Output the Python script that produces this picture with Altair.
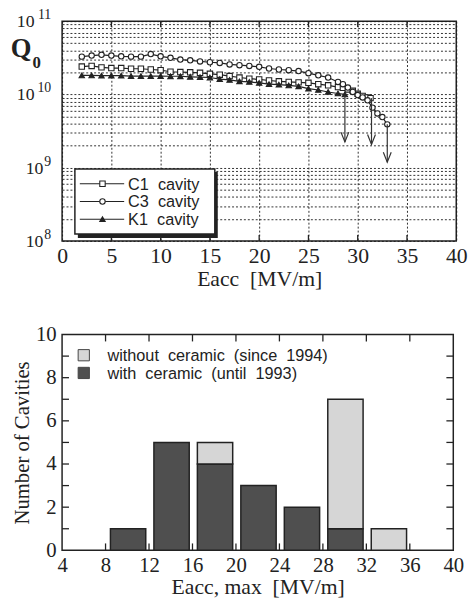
import altair as alt
import pandas as pd

SERIF = "Liberation Serif"
SANS = "Liberation Sans"
INK = "#222222"
NB = "\u00a0"

# ---------------- top panel: Q0 vs Eacc ----------------
c1_eacc = [2, 3, 4, 5, 6, 7, 8, 9, 10, 11, 12, 13, 14, 15, 16, 17, 18, 19, 20,
           21, 22, 23, 24, 25, 26, 27, 28, 28.5, 29, 29.5, 30, 30.5, 31, 31.3]
c1_q = [2.40e10, 2.45e10, 2.34e10, 2.29e10, 2.29e10, 2.24e10, 2.24e10, 2.19e10,
        2.14e10, 2.04e10, 2.02e10, 2.00e10, 1.97e10, 1.91e10, 1.86e10, 1.78e10,
        1.70e10, 1.64e10, 1.60e10, 1.55e10, 1.51e10, 1.48e10, 1.46e10, 1.44e10,
        1.38e10, 1.33e10, 1.26e10, 1.23e10, 1.17e10, 1.12e10, 1.02e10, 0.955e10,
        0.91e10, 0.89e10]

c3_eacc = [2, 3, 4, 5, 6, 7, 8, 9, 10, 11, 12, 13, 14, 15, 16, 17, 18, 19, 20,
           21, 22, 23, 24, 25, 26, 27, 28, 28.5, 29, 29.5, 30, 30.5, 31, 31.5,
           32, 32.5, 33]
c3_q = [3.28e10, 3.39e10, 3.47e10, 3.39e10, 3.31e10, 3.28e10, 3.28e10, 3.55e10,
        3.31e10, 3.16e10, 2.99e10, 2.92e10, 2.82e10, 2.75e10, 2.69e10, 2.57e10,
        2.51e10, 2.45e10, 2.38e10, 2.26e10, 2.19e10, 2.14e10, 2.08e10, 1.95e10,
        1.82e10, 1.70e10, 1.48e10, 1.38e10, 1.24e10, 1.08e10, 0.98e10, 0.91e10,
        0.83e10, 0.66e10, 0.55e10, 0.49e10, 0.39e10]

k1_eacc = [2, 3, 4, 5, 6, 7, 8, 9, 10, 11, 12, 13, 14, 15, 16, 17, 18, 19, 20,
           21, 22, 23, 24, 25, 26, 27, 28, 28.7]
k1_q = [1.82e10, 1.82e10, 1.80e10, 1.80e10, 1.80e10, 1.78e10, 1.78e10, 1.78e10,
        1.78e10, 1.77e10, 1.77e10, 1.74e10, 1.72e10, 1.70e10, 1.62e10, 1.58e10,
        1.51e10, 1.48e10, 1.44e10, 1.38e10, 1.36e10, 1.33e10, 1.29e10, 1.20e10,
        1.15e10, 1.08e10, 1.03e10, 1.00e10]

series_names = ["C1" + NB + NB + "cavity", "C3" + NB + NB + "cavity", "K1" + NB + NB + "cavity"]
series_shapes = ["square", "circle", "triangle-up"]
series_fills = ["white", "white", INK]

arrow_eacc = [28.7, 31.4, 33.0]
arrow_q_start = [1.00e10, 0.89e10, 0.39e10]
arrow_q_end = [2.24e9, 2.08e9, 1.19e9]

q_exponents = [8, 9, 10, 11]
top_x_ticks = [0, 5, 10, 15, 20, 25, 30, 35, 40]
top_inner_ticks = [5, 10, 15, 20, 25, 30, 35]
q_grid = [k * 10.0 ** n for n in (8, 9, 10) for k in range(1, 10)] + [1e11]
q_title_main = "Q"
q_title_sub = "0"

# ---------------- bottom panel: histogram ----------------
bin_start = [8, 12, 16, 20, 24, 28, 32]
bin_width = 4
with_ceramic = [1, 5, 4, 3, 2, 1, 0]
without_ceramic = [0, 0, 1, 0, 0, 6, 1]
hist_labels = ["without" + NB + NB + "ceramic" + NB + NB + "(since" + NB + NB + "1994)",
               "with" + NB + NB + "ceramic" + NB + NB + "(until" + NB + NB + "1993)"]
hist_fills = ["#d6d6d6", "#4f4f4f"]
bottom_x_ticks = [4, 8, 12, 16, 20, 24, 28, 32, 36, 40]
bottom_inner_x = [8, 12, 16, 20, 24, 28, 32, 36]
bottom_y_ticks = [0, 2, 4, 6, 8, 10]
bottom_inner_y = [1, 2, 3, 4, 5, 6, 7, 8, 9]

TW, TH = 400, 223
BW, BH = 397, 219

# ---------- build top ----------
curves = pd.concat([
    pd.DataFrame({"eacc": c1_eacc, "q": c1_q, "series": series_names[0]}),
    pd.DataFrame({"eacc": c3_eacc, "q": c3_q, "series": series_names[1]}),
    pd.DataFrame({"eacc": k1_eacc, "q": k1_q, "series": series_names[2]}),
], ignore_index=True)

GRID = dict(grid=True, gridDash=[2, 2], gridColor="#1a1a1a", gridWidth=1, gridOpacity=0.9)

x_top = alt.X("eacc:Q",
              scale=alt.Scale(domain=[0, 40], nice=False, zero=False),
              axis=alt.Axis(values=top_x_ticks, ticks=False, domain=False, labelFont=SERIF,
                            labelFontSize=22, labelColor=INK, labelPadding=5,
                            labelFlush=False, labelOverlap=False,
                            title="Eacc" + NB + NB + "[MV/m]", titleFont=SERIF,
                            titleFontSize=22, titleFontWeight="normal", titleColor=INK,
                            titlePadding=2, **GRID))
y_top = alt.Y("q:Q",
              scale=alt.Scale(type="log", domain=[1e8, 1e11], nice=False),
              axis=alt.Axis(values=q_grid, labels=False, ticks=False, domain=False,
                            title=None, **GRID))

shape_scale = alt.Scale(domain=series_names, range=series_shapes)
fill_scale = alt.Scale(domain=series_names, range=series_fills)

lines = alt.Chart(curves).mark_line(color=INK, strokeWidth=1.2).encode(
    x=x_top, y=y_top, detail="series:N")
points = alt.Chart(curves).mark_point(filled=True, size=30, stroke=INK, strokeWidth=1.1, opacity=1).encode(
    x="eacc:Q", y="q:Q",
    shape=alt.Shape("series:N", scale=shape_scale, legend=None),
    fill=alt.Fill("series:N", scale=fill_scale, legend=None))

arrows_df = pd.DataFrame({"eacc": arrow_eacc, "q": arrow_q_start, "q2": arrow_q_end})
arrow_lines = alt.Chart(arrows_df).mark_rule(color="#333", strokeWidth=1.2).encode(
    x="eacc:Q", y="q:Q", y2="q2:Q")
arrow_heads = alt.Chart(arrows_df).mark_point(
    shape="M-1,-2.5L0,0L1,-2.5", size=64, filled=False, color="#333", strokeWidth=1.2, opacity=1
).encode(x="eacc:Q", y=alt.Y("q2:Q"))

tick_df = pd.DataFrame({"eacc": top_inner_ticks})
ticks_bottom = alt.Chart(tick_df).mark_rule(color=INK, strokeWidth=1.3).encode(
    x="eacc:Q", y=alt.value(TH), y2=alt.value(TH - 6))
ticks_top = alt.Chart(tick_df).mark_rule(color=INK, strokeWidth=1.3).encode(
    x="eacc:Q", y=alt.value(0), y2=alt.value(6))

exp_df = pd.DataFrame({"exp": q_exponents})
base = alt.Chart(exp_df).transform_calculate(q="pow(10, datum.exp)", e="'' + datum.exp")
ten_two = base.transform_filter("datum.exp >= 10").mark_text(
    text="10", align="right", baseline="alphabetic", font=SERIF, fontSize=18, color=INK, dy=6
).encode(x=alt.value(-28), y="q:Q")
ten_one = base.transform_filter("datum.exp < 10").mark_text(
    text="10", align="right", baseline="alphabetic", font=SERIF, fontSize=18, color=INK, dy=6
).encode(x=alt.value(-19), y="q:Q")
exps = base.mark_text(align="right", baseline="alphabetic", font=SERIF, fontSize=14,
                      color=INK, dy=-2).encode(x=alt.value(-11), y="q:Q", text="e:N")

title_df = pd.DataFrame({"main": [q_title_main], "sub": [q_title_sub]})
q_main = alt.Chart(title_df).mark_text(align="left", baseline="alphabetic", font=SERIF,
                                       fontWeight="bold", fontSize=27, color=INK).encode(
    x=alt.value(-52), y=alt.value(36), text="main:N")
q_sub = alt.Chart(title_df).mark_text(align="left", baseline="alphabetic", font=SERIF,
                                      fontWeight="bold", fontSize=17, color=INK).encode(
    x=alt.value(-30), y=alt.value(48), text="sub:N")

one = pd.DataFrame({"k": [0]})
leg_shadow = alt.Chart(one).mark_rect(color=INK).encode(
    x=alt.value(16), x2=alt.value(158), y=alt.value(153), y2=alt.value(220))
leg_box = alt.Chart(one).mark_rect(fill="white", stroke=INK, strokeWidth=1.5).encode(
    x=alt.value(13), x2=alt.value(155), y=alt.value(150), y2=alt.value(216))
legend_layers = []
for i, name in enumerate(series_names):
    ly = 165 + 18 * i
    d = pd.DataFrame({"label": [name]})
    legend_layers.append(alt.Chart(d).mark_rule(color=INK, strokeWidth=1.2).encode(
        x=alt.value(18), x2=alt.value(63), y=alt.value(ly)))
    legend_layers.append(alt.Chart(d).mark_point(
        shape=series_shapes[i], filled=True, fill=series_fills[i], stroke=INK,
        strokeWidth=1.1, size=30, opacity=1).encode(x=alt.value(41), y=alt.value(ly)))
    legend_layers.append(alt.Chart(d).mark_text(
        align="left", baseline="middle", font=SANS, fontSize=16.5, color=INK).encode(
        x=alt.value(67), y=alt.value(ly + 1), text="label:N"))

top = alt.layer(lines, points, arrow_lines, arrow_heads, ticks_bottom, ticks_top,
                ten_two, ten_one, exps, q_main, q_sub, leg_shadow, leg_box,
                *legend_layers).properties(width=TW, height=TH)

# ---------- build bottom ----------
hist = pd.DataFrame({"start": bin_start, "with": with_ceramic, "without": without_ceramic})

x_bot = alt.X("x0:Q", scale=alt.Scale(domain=[4, 40], nice=False, zero=False),
              axis=alt.Axis(values=bottom_x_ticks, grid=False, ticks=False, domain=False,
                            labelFont=SERIF, labelFontSize=21, labelColor=INK, labelPadding=4,
                            labelFlush=False, labelOverlap=False,
                            title="Eacc, max" + NB + NB + "[MV/m]", titleFont=SERIF,
                            titleFontSize=22, titleFontWeight="normal", titleColor=INK,
                            titlePadding=2))
y_bot = alt.Y("y0:Q", scale=alt.Scale(domain=[0, 10], nice=False),
              axis=alt.Axis(values=bottom_y_ticks, grid=False, ticks=False, domain=False,
                            labelFont=SERIF, labelFontSize=21, labelColor=INK, labelPadding=6,
                            labelFlush=False, labelOverlap=False,
                            title="Number of Cavities", titleFont=SERIF, titleFontSize=21,
                            titleFontWeight="normal", titleColor=INK, titlePadding=3))

hb = alt.Chart(hist).transform_calculate(
    x0=f"datum.start + 0.45", x1=f"datum.start + {bin_width} - 0.3")
dark = hb.transform_filter("datum.with > 0").transform_calculate(
    y0="0", y1="datum.with").mark_rect(fill=hist_fills[1], stroke=INK, strokeWidth=1.5).encode(
    x=x_bot, x2="x1:Q", y=y_bot, y2="y1:Q")
light = hb.transform_filter("datum.without > 0").transform_calculate(
    y0="datum.with", y1="datum.with + datum.without").mark_rect(
    fill=hist_fills[0], stroke=INK, strokeWidth=1.5).encode(
    x="x0:Q", x2="x1:Q", y="y0:Q", y2="y1:Q")

bx_df = pd.DataFrame({"x0": bottom_inner_x})
by_df = pd.DataFrame({"y0": bottom_inner_y})
bt1 = alt.Chart(bx_df).mark_rule(color=INK, strokeWidth=1.3).encode(
    x="x0:Q", y=alt.value(BH), y2=alt.value(BH - 7))
bt2 = alt.Chart(bx_df).mark_rule(color=INK, strokeWidth=1.3).encode(
    x="x0:Q", y=alt.value(0), y2=alt.value(7))
bt3 = alt.Chart(by_df).mark_rule(color=INK, strokeWidth=1.3).encode(
    y="y0:Q", x=alt.value(0), x2=alt.value(7))
bt4 = alt.Chart(by_df).mark_rule(color=INK, strokeWidth=1.3).encode(
    y="y0:Q", x=alt.value(BW - 7), x2=alt.value(BW))

hl_layers = []
for i, lab in enumerate(hist_labels):
    ly = 21 + 18 * i
    d = pd.DataFrame({"label": [lab]})
    hl_layers.append(alt.Chart(d).mark_point(
        shape="square", filled=True, fill=hist_fills[i], stroke="#444", strokeWidth=1,
        size=130, opacity=1).encode(x=alt.value(22), y=alt.value(ly)))
    hl_layers.append(alt.Chart(d).mark_text(
        align="left", baseline="middle", font=SANS, fontSize=16.5, color=INK).encode(
        x=alt.value(46), y=alt.value(ly + 1), text="label:N"))

bottom = alt.layer(dark, light, bt1, bt2, bt3, bt4, *hl_layers).properties(width=BW, height=BH)

chart = alt.vconcat(top, bottom, spacing=33).properties(
    padding={"left": 10, "top": 3, "right": 5, "bottom": 2},
    background="white",
).configure_view(stroke=INK, strokeWidth=1.5)

chart.save("out.html", embed_options={"renderer": "svg", "actions": False})
